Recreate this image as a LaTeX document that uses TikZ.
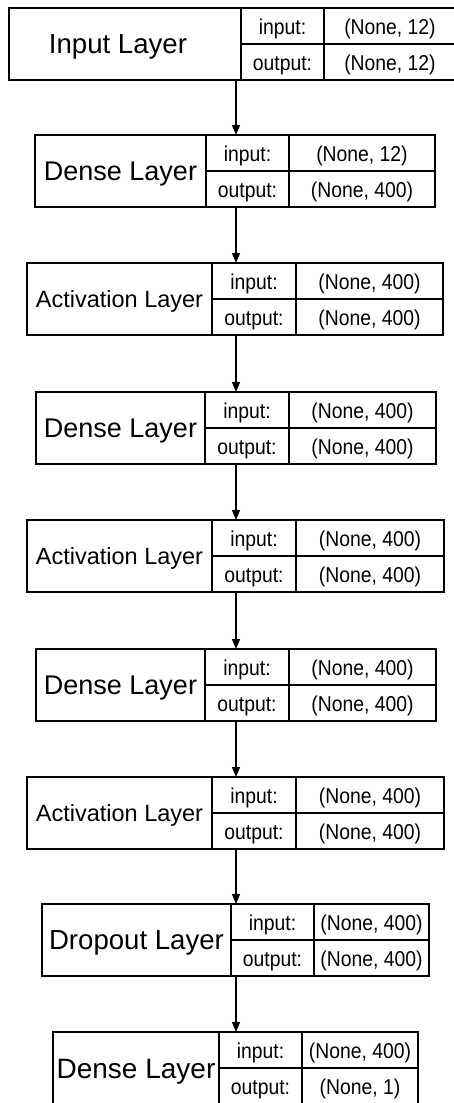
\documentclass[tikz,border=0pt]{standalone}
\usepackage{fontspec}
\setmainfont{Liberation Sans}
\usetikzlibrary{arrows.meta}
\tikzset{
  boxline/.style={line width=1.4pt},
  outerbox/.style={draw, line width=1.4pt, rectangle, inner sep=0pt, outer sep=0pt, anchor=north west},
  biglabel/.style={anchor=base, inner sep=0pt},
  smalllabel/.style={anchor=base, inner sep=0pt, font=\fontsize{21.5}{24}\selectfont},
  flow/.style={line width=1.3pt, -{Triangle[length=10pt,width=8pt]}}
}
\newcommand\narrowtext[1]{\scalebox{0.9}[1]{#1}}
% #1 name, #2 top, #3 x0, #4 x1, #5 x2, #6 x3, #7 label, #8 input shape, #9 output shape
\newcommand\layerbox[9]{%
  \pgfmathsetmacro\lbw{#6-#3}%
  \node[outerbox, minimum width=\lbw pt, minimum height=72pt] (#1) at (#3,#2) {};
  \draw[boxline] (#4,#2) -- (#4,{#2+72});
  \draw[boxline] (#5,#2) -- (#5,{#2+72});
  \draw[boxline] (#4,{#2+36}) -- (#6,{#2+36});
  \node[biglabel, font=\fontsize{\lfs}{\lfs}\selectfont, xshift=\lxs pt] (#1-lab) at ({(#3+#4)/2},{#2+36+0.358*\lfs}) {#7};
  \node[smalllabel] (#1-in) at ({(#4+#5)/2},{#2+26.5}) {\narrowtext{input:}};
  \node[smalllabel] (#1-inv) at ({(#5+#6)/2},{#2+26.5}) {\narrowtext{#8}};
  \node[smalllabel] (#1-out) at ({(#4+#5)/2},{#2+62}) {\narrowtext{output:}};
  \node[smalllabel] (#1-outv) at ({(#5+#6)/2},{#2+62}) {\narrowtext{#9}};
}
\begin{document}
\begin{tikzpicture}[x=1pt,y=-1pt]
\useasboundingbox (0,0) rectangle (454,1103);
\clip (0,0) rectangle (454,1103);
\coordinate (ax) at (236,0);
\def\lxs{-7}\def\lfs{27.6}
\layerbox{L1}{8}{9}{241}{324}{456}{Input Layer}{(None, 12)}{(None, 12)}
\def\lxs{0}\def\lfs{27}
\layerbox{L2}{135}{35}{206}{289}{435}{Dense Layer}{(None, 12)}{(None, 400)}
\def\lfs{23.5}
\layerbox{L3}{263}{27}{212}{296}{443}{Activation Layer}{(None, 400)}{(None, 400)}
\def\lfs{27}
\layerbox{L4}{392}{36}{205}{289}{436}{Dense Layer}{(None, 400)}{(None, 400)}
\def\lfs{23.5}
\layerbox{L5}{520}{27}{212}{296}{444}{Activation Layer}{(None, 400)}{(None, 400)}
\def\lfs{27}
\layerbox{L6}{649}{36}{205}{289}{436}{Dense Layer}{(None, 400)}{(None, 400)}
\def\lfs{23.5}
\layerbox{L7}{777}{27}{212}{296}{444}{Activation Layer}{(None, 400)}{(None, 400)}
\def\lfs{27.6}
\layerbox{L8}{904}{42}{231}{314}{429}{Dropout Layer}{(None, 400)}{(None, 400)}
\def\lfs{28}
\layerbox{L9}{1032}{53}{219}{302}{418}{Dense Layer}{(None, 400)}{(None, 1)}
\draw[flow] (L1.south -| ax) -- (L2.north -| ax);
\draw[flow] (L2.south -| ax) -- (L3.north -| ax);
\draw[flow] (L3.south -| ax) -- (L4.north -| ax);
\draw[flow] (L4.south -| ax) -- (L5.north -| ax);
\draw[flow] (L5.south -| ax) -- (L6.north -| ax);
\draw[flow] (L6.south -| ax) -- (L7.north -| ax);
\draw[flow] (L7.south -| ax) -- (L8.north -| ax);
\draw[flow] (L8.south -| ax) -- (L9.north -| ax);
\end{tikzpicture}
\end{document}
